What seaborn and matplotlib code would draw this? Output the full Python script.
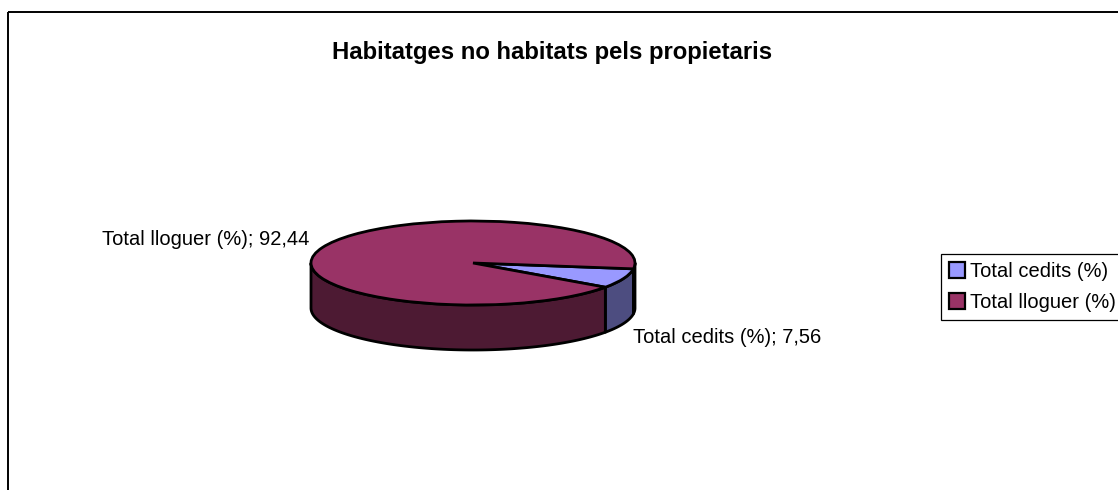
import numpy as np
import matplotlib
matplotlib.use("Agg")
import matplotlib.pyplot as plt
from matplotlib.patches import Patch, Rectangle
import seaborn as sns

labels = ["Total cedits (%)", "Total lloguer (%)"]
values = [7.56, 92.44]
value_text = ["7,56", "92,44"]
title = "Habitatges no habitats pels propietaris"
top_colors = ["#9999FF", "#993366"]
side_colors = ["#4D4D80", "#4D1A33"]

sns.set_theme(style="white")
plt.rcParams["font.family"] = ["Liberation Sans", "DejaVu Sans"]

W, H = 1118, 490
fig = plt.figure(figsize=(W / 100, H / 100), dpi=100, facecolor="white")
bg = fig.add_axes([0, 0, 1, 1])
bg.set_xlim(0, W)
bg.set_ylim(H, 0)
bg.axis("off")

# chart frame (continues past the right and bottom of the picture)
bg.add_patch(Rectangle((7.5, 12.5), W + 20, H + 20, fill=False, ec="black", lw=1.4))

# pie axes: unit circle squashed to an ellipse, with room below for the wall
cx, cy, a, b, depth = 473, 263, 162, 42, 45
d = depth / b
left, right = cx - a - 3, cx + a + 3
top, bottom = cy - b - 3, cy + b + depth + 3
ax = fig.add_axes([left / W, 1 - bottom / H, (right - left) / W, (bottom - top) / H])
ax.set_facecolor("none")

start = -8.0
sweeps = 360 * np.array(values) / sum(values)
edges = start - np.concatenate([[0], np.cumsum(sweeps)])

# side wall: only the front half (sin < 0) is visible, one polygon per visible run
for i in range(len(values)):
    t = np.radians(np.linspace(edges[i], edges[i + 1], 720))
    vis = np.sin(t) <= 0.0
    for run in np.split(np.arange(t.size), np.flatnonzero(np.diff(vis.astype(int))) + 1):
        if not vis[run[0]] or run.size < 2:
            continue
        xs = np.cos(t[run])
        ys = np.sin(t[run])
        px = np.concatenate([xs, xs[::-1]])
        py = np.concatenate([ys, ys[::-1] - d])
        ax.fill(px, py, fc=side_colors[i], ec="black", lw=2, joinstyle="round", zorder=1)

ax.pie(values, colors=top_colors, startangle=start, counterclock=False, radius=1,
       wedgeprops=dict(edgecolor="black", linewidth=2, zorder=2))
ax.set_aspect("auto")
ax.set_xlim(-(right - left) / 2 / a, (right - left) / 2 / a)
ax.set_ylim((cy - bottom) / b, (cy - top) / b)
ax.axis("off")

txt = dict(fontsize=14.5, color="black", va="center")
bg.text(552, 52, title, ha="center", va="center", fontsize=17.2, fontweight="bold", color="black")
bg.text(102, 239, f"{labels[1]}; {value_text[1]}", ha="left", **txt)
bg.text(633, 337, f"{labels[0]}; {value_text[0]}", ha="left", **txt)

handles = [Patch(fc=c, ec="black", lw=1.6) for c in top_colors]
leg = bg.legend(handles, labels, loc="upper left", bbox_to_anchor=(941 / W, 1 - 254 / H),
                bbox_transform=fig.transFigure, frameon=True, fancybox=False, framealpha=1,
                edgecolor="black", fontsize=14.5, labelcolor="black", borderaxespad=0,
                borderpad=0.4, handlelength=0.8, handleheight=0.8, handletextpad=0.25,
                labelspacing=0.6)
leg.get_frame().set_linewidth(0.9)

fig.savefig("out.png", dpi=100, facecolor="white")
